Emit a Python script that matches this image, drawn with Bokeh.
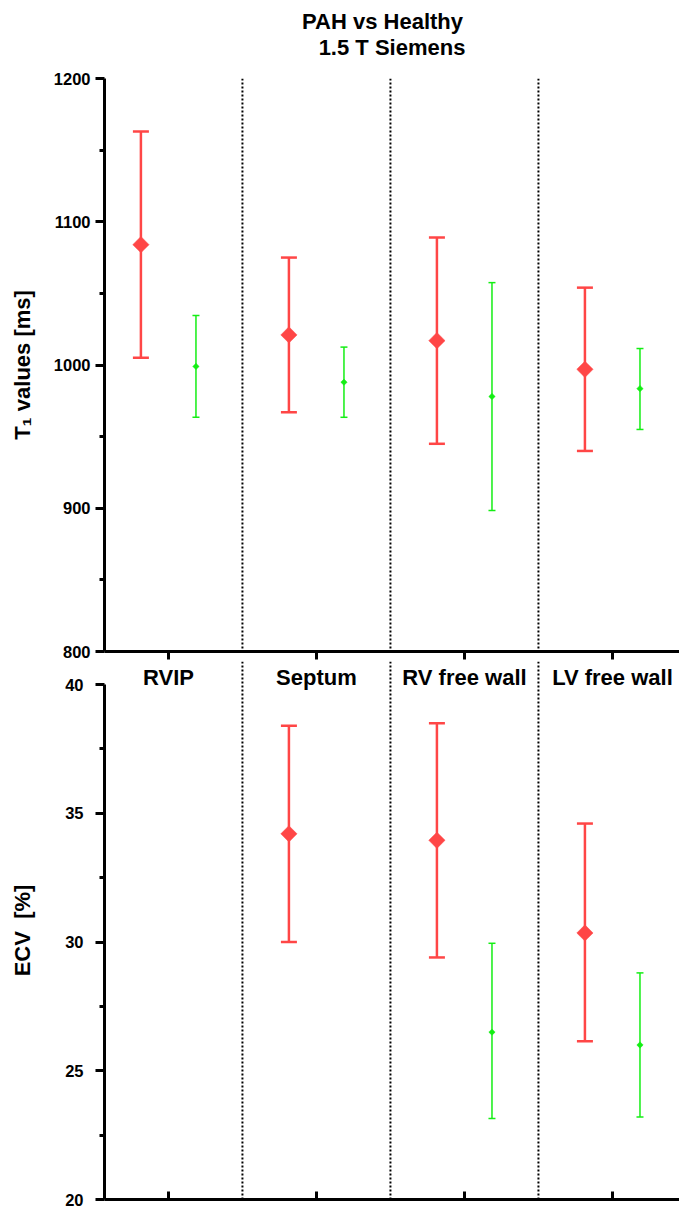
import math
from bokeh.plotting import figure
from bokeh.layouts import column
from bokeh.models import (ColumnDataSource, Whisker, TeeHead, Range1d, FixedTicker, Span)
from bokeh.embed import file_html
from bokeh.resources import INLINE
from bokeh.core.properties import value

# ---------------- data ----------------
categories = ["RVIP", "Septum", "RV free wall", "LV free wall"]
groups = ["PAH", "Healthy"]

t1_pah_mean = [1084, 1021, 1017, 997]
t1_pah_upper = [1163, 1075, 1089, 1054]
t1_pah_lower = [1005, 967, 945, 940]
t1_healthy_mean = [999, 988, 978, 983.5]
t1_healthy_upper = [1034.5, 1012.5, 1057.5, 1011.5]
t1_healthy_lower = [963.5, 963.5, 898.5, 955]

ecv_pah_mean = [None, 34.2, 33.95, 30.35]
ecv_pah_upper = [None, 38.4, 38.5, 34.6]
ecv_pah_lower = [None, 30.0, 29.4, 26.15]
ecv_healthy_mean = [None, None, 26.5, 26.0]
ecv_healthy_upper = [None, None, 29.95, 28.8]
ecv_healthy_lower = [None, None, 23.15, 23.2]

t1_ticks = [800, 900, 1000, 1100, 1200]
t1_minor_ticks = [850, 950, 1050, 1150]
ecv_ticks = [20, 25, 30, 35, 40]
ecv_minor_ticks = [22.5, 27.5, 32.5, 37.5]

title_lines = ["PAH vs Healthy", "1.5 T Siemens"]
t1_label = "T\u2081 values [ms]"
ecv_label = "ECV\u00a0 [%]"

# ---------------- layout / style ----------------
FONT = "Liberation Sans"
RED = "#FF4646"
GREEN = "#14EE14"
W = 679
LEFT = 104
DODGE = 0.186
X_START, X_END = -0.432, 3.453
PX_PER_X = (W - LEFT) / (X_END - X_START)

H0 = 64                      # title strip
TITLE_Y = [H0 - 20.5, H0 - 47]          # px up from the strip bottom (line centres)
TITLE_DX = [-9.5, 0]                    # px shift from the frame centre

TOP_TOP = 14
TOP_FRAME_H = 573
TOP_BOTTOM = 10
H1 = TOP_TOP + TOP_FRAME_H + TOP_BOTTOM

ECV_FRAME_TOP_GAP = 23      # px from bottom panel top edge to the 40 tick
ECV_SPAN_PX = 515           # px between 20 and 40
BOTTOM_BORDER = 9
H2 = ECV_FRAME_TOP_GAP + ECV_SPAN_PX + BOTTOM_BORDER
PX_PER_ECV = ECV_SPAN_PX / (ecv_ticks[-1] - ecv_ticks[0])
CAT_LABEL_PX_ABOVE_40 = 7.5

cat_x = list(range(len(categories)))
separators = [i + 0.5 for i in cat_x[:-1]]


def style_y(ax, ticks, minor, standoff, label_standoff):
    ax.ticker = FixedTicker(ticks=ticks, minor_ticks=minor)
    ax.axis_line_width = 3
    ax.major_tick_line_width = 3
    ax.minor_tick_line_width = 3
    ax.major_tick_out = 9
    ax.major_tick_in = 0
    ax.minor_tick_out = 5
    ax.minor_tick_in = 0
    ax.major_label_text_font = FONT
    ax.major_label_text_font_style = "bold"
    ax.major_label_text_font_size = "16.5px"
    ax.major_label_text_color = "black"
    ax.major_label_standoff = standoff
    ax.axis_label_text_font = FONT
    ax.axis_label_text_font_style = "bold"
    ax.axis_label_text_font_size = "22px"
    ax.axis_label_text_color = "black"
    ax.axis_label_standoff = label_standoff


def style_x(ax, tick_in, tick_out):
    ax.ticker = FixedTicker(ticks=cat_x, minor_ticks=[])
    ax.axis_line_width = 3
    ax.major_tick_line_width = 3
    ax.major_tick_in = tick_in
    ax.major_tick_out = tick_out
    ax.minor_tick_in = 0
    ax.minor_tick_out = 0
    ax.major_label_overrides = {i: "" for i in cat_x}
    ax.major_label_text_font_size = "1px"
    ax.major_label_standoff = 0


def add_series(p, xs, mean, upper, lower, color, lw, cap, msize):
    rows = [(x, m, u, l) for x, m, u, l in zip(xs, mean, upper, lower) if m is not None]
    src = ColumnDataSource(dict(x=[r[0] for r in rows], y=[r[1] for r in rows],
                                upper=[r[2] for r in rows], lower=[r[3] for r in rows]))
    w = Whisker(base="x", upper="upper", lower="lower", source=src,
                line_color=color, line_width=lw,
                upper_head=TeeHead(size=cap, line_color=color, line_width=lw),
                lower_head=TeeHead(size=cap, line_color=color, line_width=lw))
    w.level = "underlay"
    p.add_layout(w)
    p.scatter("x", "y", source=src, marker="square", angle=math.pi / 4, size=msize,
              fill_color=color, line_color=color, line_width=0.5)


x_range = Range1d(X_START, X_END)
x_mid = (X_START + X_END) / 2

# ---------------- title strip ----------------
p0 = figure(width=W, height=H0, output_backend="svg", toolbar_location=None,
            x_range=x_range, y_range=Range1d(0, H0),
            x_axis_location=None, y_axis_location=None,
            min_border_left=LEFT, min_border_right=0, min_border_top=0,
            min_border_bottom=0, title_location=None)
p0.outline_line_color = None
p0.grid.visible = False
p0.text(x=[x_mid + dx / PX_PER_X for dx in TITLE_DX], y=TITLE_Y, text=title_lines,
        text_align="center", text_baseline="middle",
        text_font=value(FONT), text_font_style="bold", text_font_size="22px",
        text_color="black")

# ---------------- top panel: T1 ----------------
p1 = figure(width=W, height=H1, output_backend="svg", toolbar_location=None,
            x_range=x_range, y_range=Range1d(t1_ticks[0], t1_ticks[-1]),
            min_border_left=LEFT, min_border_right=0, min_border_top=TOP_TOP,
            min_border_bottom=TOP_BOTTOM, title_location=None)
p1.outline_line_color = None
p1.xgrid.visible = False
p1.ygrid.visible = False
p1.yaxis.axis_label = t1_label
style_y(p1.yaxis[0], t1_ticks, t1_minor_ticks, 5, 16)
style_x(p1.xaxis[0], 0, 8)

for s in separators:
    p1.add_layout(Span(location=s, dimension="height", line_color="black",
                       line_width=2, line_dash="2 2"))

add_series(p1, [x - DODGE for x in cat_x], t1_pah_mean, t1_pah_upper, t1_pah_lower,
           RED, 2.5, 16, 11.5)
add_series(p1, [x + DODGE for x in cat_x], t1_healthy_mean, t1_healthy_upper,
           t1_healthy_lower, GREEN, 1.5, 7, 4.5)

# ---------------- bottom panel: ECV ----------------
p2 = figure(width=W, height=H2, output_backend="svg", toolbar_location=None,
            x_range=x_range,
            y_range=Range1d(ecv_ticks[0], ecv_ticks[-1] + ECV_FRAME_TOP_GAP / PX_PER_ECV),
            min_border_left=LEFT, min_border_right=0, min_border_top=0,
            min_border_bottom=BOTTOM_BORDER, title_location=None)
p2.outline_line_color = None
p2.xgrid.visible = False
p2.ygrid.visible = False
p2.yaxis.axis_label = ecv_label
p2.yaxis.bounds = (ecv_ticks[0], ecv_ticks[-1])
style_y(p2.yaxis[0], ecv_ticks, ecv_minor_ticks, 12, 27)
style_x(p2.xaxis[0], 8, 0)

for s in separators:
    p2.add_layout(Span(location=s, dimension="height", line_color="black",
                       line_width=2, line_dash="2 2"))

add_series(p2, [x - DODGE for x in cat_x], ecv_pah_mean, ecv_pah_upper, ecv_pah_lower,
           RED, 2.5, 16, 11.5)
add_series(p2, [x + DODGE for x in cat_x], ecv_healthy_mean, ecv_healthy_upper,
           ecv_healthy_lower, GREEN, 1.5, 7, 4.5)

# category labels of the T1 panel's x axis, drawn just under that axis
p2.text(x=cat_x, y=[ecv_ticks[-1] + CAT_LABEL_PX_ABOVE_40 / PX_PER_ECV] * len(cat_x),
        text=categories, text_align="center", text_baseline="middle",
        text_font=value(FONT), text_font_style="bold", text_font_size="22px",
        text_color="black")

layout = column(p0, p1, p2, spacing=0)
open("out.html", "w").write(file_html(layout, INLINE))
